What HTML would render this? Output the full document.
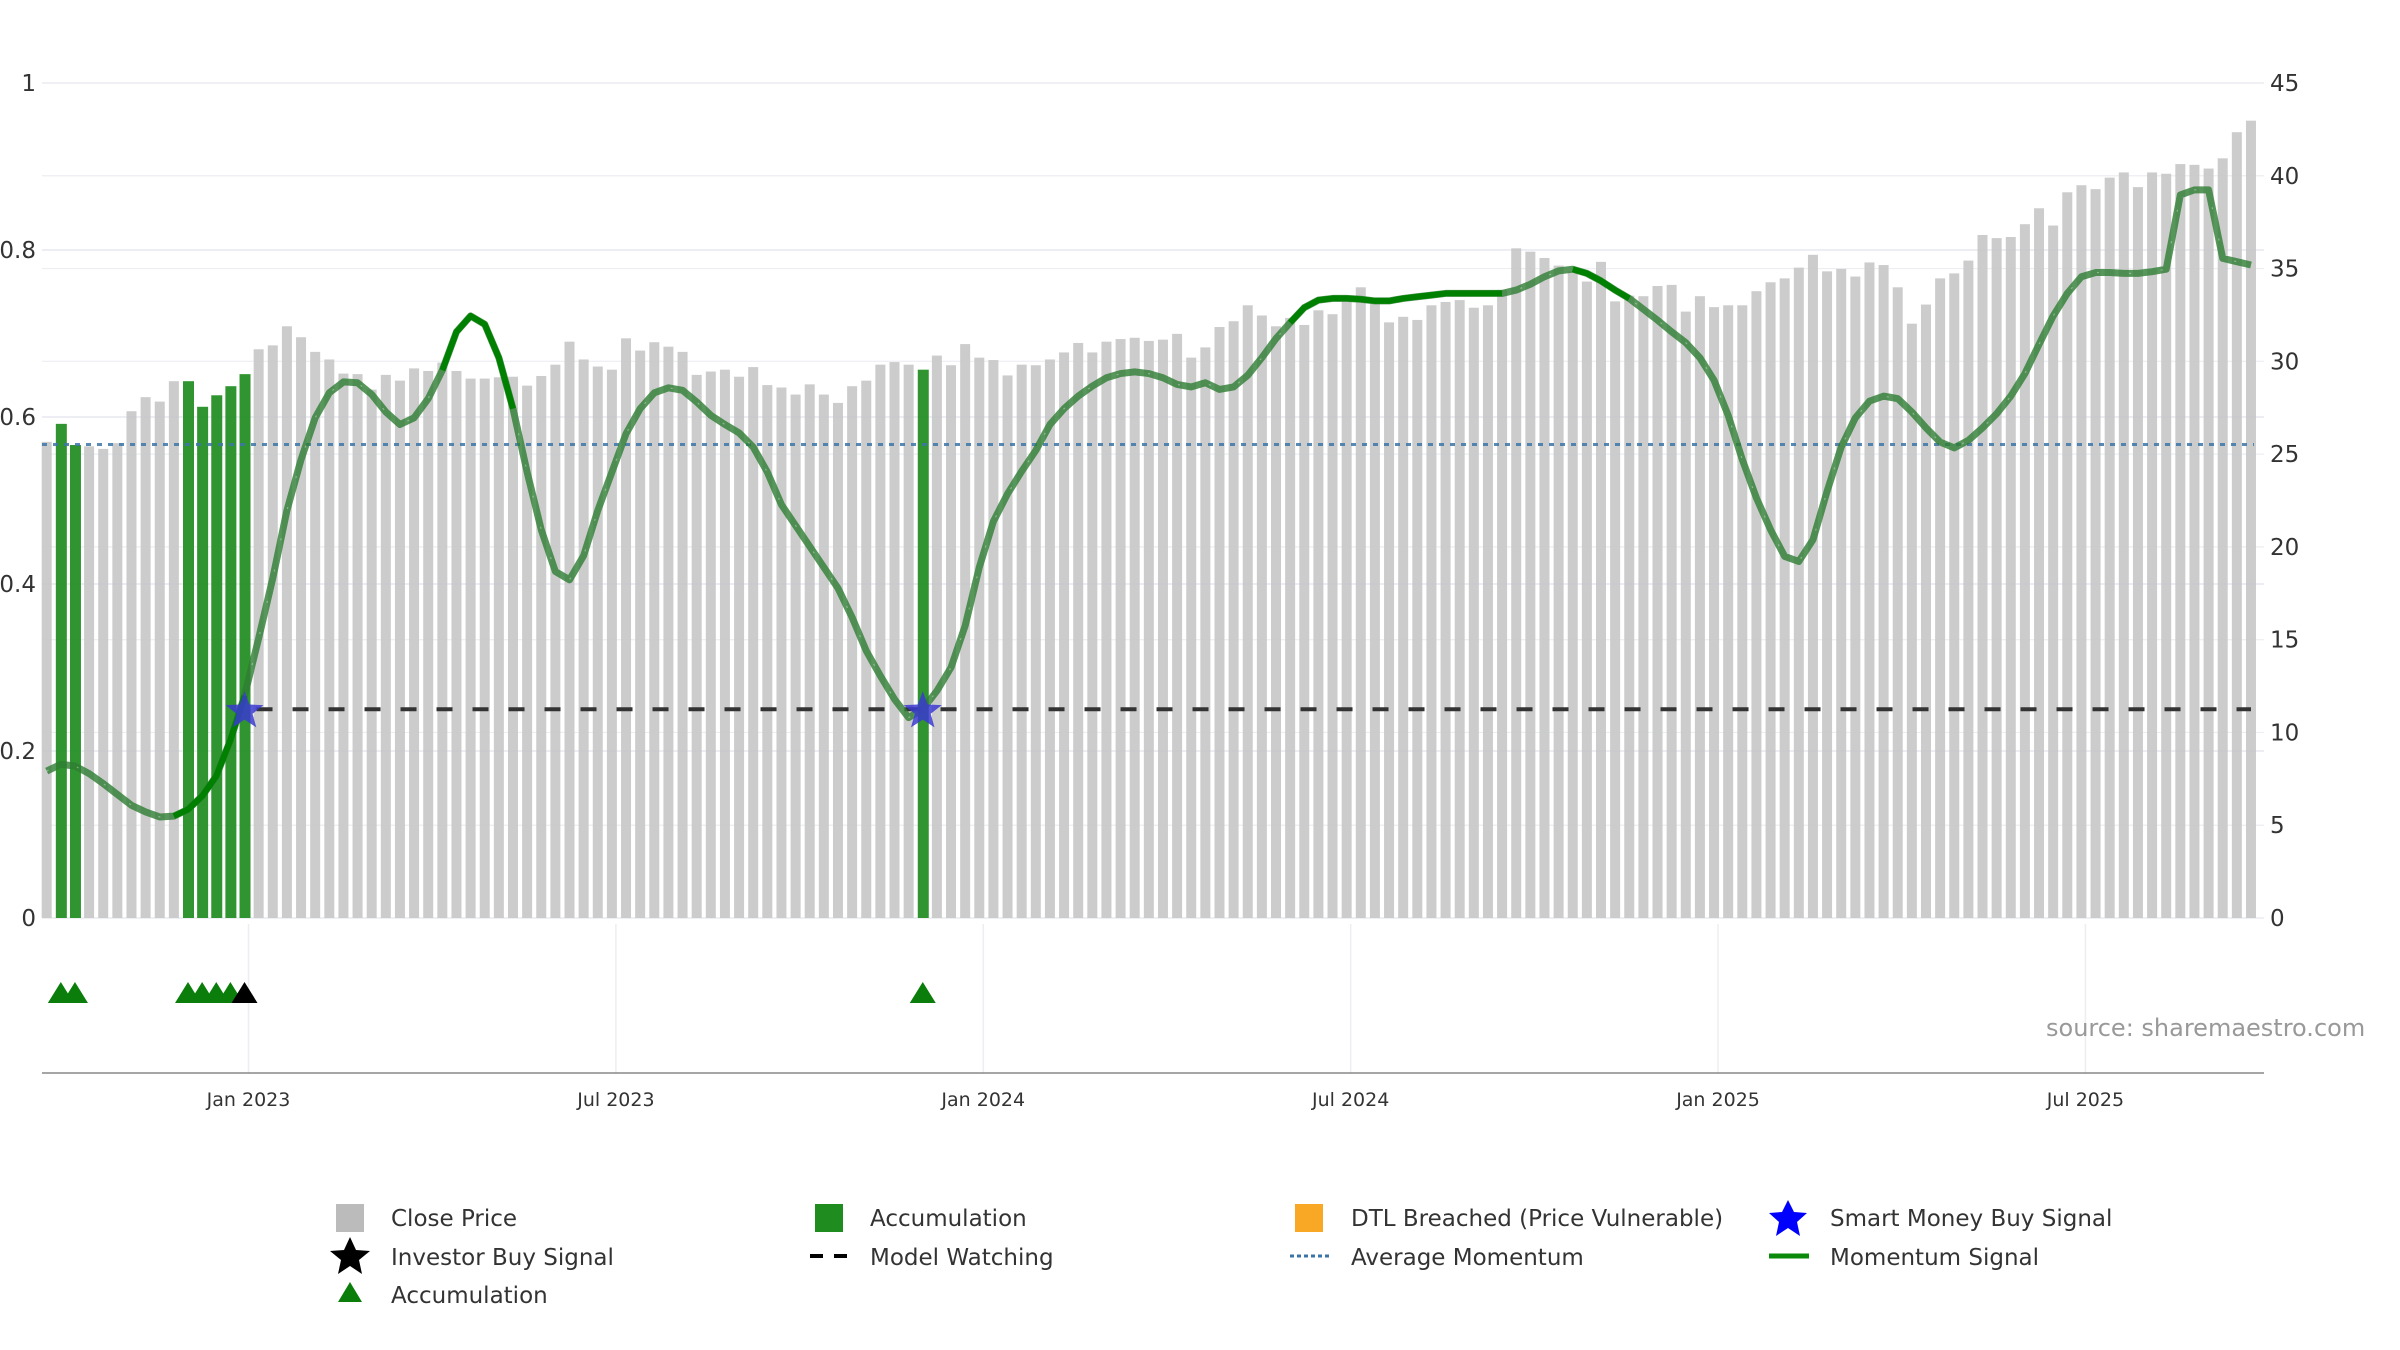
<!DOCTYPE html>
<html><head><meta charset="utf-8"><style>
html,body{margin:0;padding:0;background:#fff;}
svg{display:block;font-family:"DejaVu Sans","Liberation Sans",sans-serif;}
</style></head><body>
<svg id="chart" width="2400" height="1350" viewBox="0 0 2400 1350" xmlns="http://www.w3.org/2000/svg">
<g id="grid"></g>
<g id="bars"></g>
<g id="lines"></g>
<g id="marks"></g>
<g id="axes"></g>
<text x="2046" y="1036" font-size="24" fill="#999">source: sharemaestro.com</text>
<g id="legend" font-size="23" fill="#333">
  <rect x="336" y="1204" width="28" height="28" fill="#bbb"/>
  <text x="391" y="1226">Close Price</text>
  <rect x="815" y="1204" width="28" height="28" fill="#1e8c1e"/>
  <text x="870" y="1226">Accumulation</text>
  <rect x="1295" y="1204" width="28" height="28" fill="#f9a825"/>
  <text x="1351" y="1226">DTL Breached (Price Vulnerable)</text>
  <polygon points="1788,1200 1794,1212 1807,1213 1797,1222 1800,1236 1788,1228 1776,1236 1779,1222 1769,1213 1782,1212" fill="#0000ff"/>
  <text x="1830" y="1226">Smart Money Buy Signal</text>
  <polygon points="350,1237 356,1250 370,1251 359,1260 362,1274 350,1266 338,1274 341,1260 330,1251 344,1250" fill="#000"/>
  <text x="391" y="1265">Investor Buy Signal</text>
  <line x1="810" y1="1256" x2="850" y2="1256" stroke="#000" stroke-width="4" stroke-dasharray="13,11"/>
  <text x="870" y="1265">Model Watching</text>
  <line x1="1290" y1="1256" x2="1330" y2="1256" stroke="#3b75a8" stroke-width="3" stroke-dasharray="4,3"/>
  <text x="1351" y="1265">Average Momentum</text>
  <line x1="1769" y1="1256" x2="1809" y2="1256" stroke="#0a8a0a" stroke-width="5"/>
  <text x="1830" y="1265">Momentum Signal</text>
  <polygon points="350,1282 362,1302 338,1302" fill="#0a7d0a"/>
  <text x="391" y="1303">Accumulation</text>
</g>
</svg>
<script>
const prices = [25.66,26.63,25.49,25.42,25.28,25.59,27.31,28.07,27.83,28.93,28.93,27.55,28.17,28.66,29.31,30.65,30.86,31.89,31.30,30.51,30.10,29.34,29.31,28.48,29.27,28.96,29.62,29.48,29.93,29.48,29.07,29.07,29.14,29.17,28.69,29.21,29.82,31.06,30.10,29.72,29.55,31.24,30.58,31.03,30.79,30.51,29.27,29.45,29.55,29.17,29.69,28.72,28.59,28.21,28.76,28.21,27.76,28.66,28.96,29.82,29.96,29.82,29.55,30.31,29.79,30.93,30.20,30.07,29.24,29.82,29.79,30.10,30.48,30.99,30.48,31.06,31.20,31.27,31.10,31.17,31.48,30.20,
30.75,31.85,32.16,33.02,32.47,31.89,32.34,31.96,32.75,32.54,33.23,33.99,33.09,32.10,32.40,32.23,33.02,33.20,33.30,32.89,33.02,33.85,36.09,35.91,35.57,35.16,34.85,34.30,35.36,33.23,33.54,33.51,34.06,34.12,32.68,33.51,32.92,33.02,33.02,33.78,34.26,34.47,35.05,35.74,34.85,34.98,34.57,35.33,35.19,33.99,32.03,33.06,34.47,34.74,35.43,36.81,36.64,36.70,37.39,38.25,37.32,39.11,39.49,39.28,39.90,40.18,39.39,40.18,40.11,40.63,40.59,40.39,40.94,42.35,42.97];
const momentum = [0.176,0.184,0.182,0.173,0.161,0.148,0.135,0.127,0.121,0.122,0.130,0.146,0.170,0.213,0.266,0.335,0.407,0.488,0.549,0.599,0.629,0.642,0.641,0.627,0.606,0.591,0.599,0.622,0.656,0.702,0.721,0.711,0.671,0.610,0.534,0.465,0.415,0.405,0.434,0.488,0.534,0.580,0.610,0.629,0.635,0.632,0.618,0.602,0.591,0.581,0.564,0.534,0.495,0.470,0.445,0.420,0.395,0.360,0.320,0.290,0.262,0.240,0.250,0.272,0.300,0.350,0.420,0.475,0.508,0.535,0.560,0.591,0.610,0.625,0.637,0.647,0.652,0.654,0.652,0.647,0.639,0.636,
0.641,0.633,0.636,0.650,0.671,0.694,0.713,0.731,0.740,0.742,0.742,0.741,0.739,0.739,0.742,0.744,0.746,0.748,0.748,0.748,0.748,0.748,0.752,0.759,0.768,0.775,0.777,0.772,0.763,0.752,0.742,0.729,0.716,0.702,0.689,0.671,0.644,0.602,0.549,0.503,0.465,0.433,0.427,0.453,0.511,0.564,0.599,0.619,0.625,0.622,0.606,0.587,0.570,0.563,0.572,0.587,0.604,0.625,0.652,0.687,0.721,0.748,0.768,0.773,0.773,0.772,0.772,0.774,0.777,0.866,0.872,0.872,0.790,0.786,0.782];
const accumulationBars = [1,2,10,11,12,13,14,62];
const accumulationTriangles = [1,2,10,11,12,13,62];
const investorBuy = [14];
const smartMoney = [14,62];
const strongRanges = [[9,14],[28,33],[88,103],[108,112]];
const avgMomentum = 0.567;
const modelWatching = 0.25;
const watchStart = 14;
const leftTicks = [0,0.2,0.4,0.6,0.8,1];
const leftTickLabels = ["0","0.2","0.4","0.6","0.8","1"];
const rightTicks = [0,5,10,15,20,25,30,35,40,45];
const dateTicks = [14,40,66,92,118,144];
const dateLabels = ["Jan 2023","Jul 2023","Jan 2024","Jul 2024","Jan 2025","Jul 2025"];

const NS="http://www.w3.org/2000/svg";
const X0=46.7, STEP=14.13, Y0=918, H=835, PL=42, PR=2264, PRICEMAX=45;
const xs=i=>X0+STEP*i;
const yL=v=>Y0-v*H;
const yR=p=>Y0-p/PRICEMAX*H;
function mk(tag,attrs,parent){const e=document.createElementNS(NS,tag);for(const k in attrs)e.setAttribute(k,attrs[k]);parent.appendChild(e);return e;}
const grid=document.getElementById('grid'),bars=document.getElementById('bars'),lines=document.getElementById('lines'),marks=document.getElementById('marks'),axes=document.getElementById('axes');

leftTicks.forEach((v,k)=>{
  const l=mk('line',{x1:PL,x2:PR,y1:yL(v),y2:yL(v),stroke:'#e6e9ef','stroke-width':1.5},grid);
  
  
  const t=mk('text',{x:36,y:yL(v)+8,'font-size':23,fill:'#333','text-anchor':'end'},axes);
  t.textContent=leftTickLabels[k];
  
  
});
rightTicks.forEach(p=>{
  const l=mk('line',{x1:PL,x2:PR,y1:yR(p),y2:yR(p),stroke:'#eceef2','stroke-width':1.2},grid);
  
  
  const t=mk('text',{x:2270,y:yR(p)+8,'font-size':23,fill:'#333'},axes);
  t.textContent=String(p);
  
  
});
dateTicks.forEach((i,k)=>{
  const x=xs(i)+4;
  const l=mk('line',{x1:x,x2:x,y1:Y0+6,y2:1074,stroke:'#eceef2','stroke-width':1.5},grid);
  
  
  const t=mk('text',{x:x,y:1106,'font-size':19,fill:'#333','text-anchor':'middle'},axes);
  t.textContent=dateLabels[k];
  
  
});
const ax=mk('line',{x1:PL,x2:PR,y1:1073,y2:1073,stroke:'#888','stroke-width':1.5},axes);



prices.forEach((p,i)=>{
  const acc=accumulationBars.includes(i);
  const r=mk('rect',{x:xs(i)-5,y:yR(p),width:acc?11:10,height:Y0-yR(p),fill:acc?'#1e8c1e':'#c6c6c6','fill-opacity':acc?0.92:0.9},bars);
  
  
});

const avg=mk('line',{x1:PL,x2:PR-10,y1:yL(avgMomentum),y2:yL(avgMomentum),stroke:'#3b75a8','stroke-width':3,'stroke-dasharray':'5,6','stroke-opacity':0.85},lines);


const mw=mk('line',{x1:xs(watchStart)+12,x2:xs(prices.length-1),y1:yL(modelWatching),y2:yL(modelWatching),stroke:'#333','stroke-width':4,'stroke-dasharray':'16,20'},lines);



const pts=momentum.map((v,i)=>xs(i)+','+yL(v)).join(' ');
const ml=mk('polyline',{points:pts,fill:'none',stroke:'#2e7d32','stroke-opacity':0.8,'stroke-width':7,'stroke-linejoin':'round'},lines);


const mh=mk('polyline',{points:pts,fill:'none',stroke:'#fff','stroke-opacity':0.35,'stroke-width':1.2,'stroke-dasharray':'2,30'},lines);


strongRanges.forEach(r=>{
  const seg=momentum.slice(r[0],r[1]+1).map((v,k)=>xs(r[0]+k)+','+yL(v)).join(' ');
  const s=mk('polyline',{points:seg,fill:'none',stroke:'#008000','stroke-width':6,'stroke-linejoin':'round'},lines);
  
  
});

function star(cx,cy,R,fill){
  let p=[];for(let k=0;k<10;k++){const a=-Math.PI/2+k*Math.PI/5;const r=k%2?R*0.42:R;p.push((cx+r*Math.cos(a)).toFixed(1)+','+(cy+r*Math.sin(a)).toFixed(1));}
  return mk('polygon',{points:p.join(' '),fill:fill},marks);
}
smartMoney.forEach(i=>{
  const s=star(xs(i),yL(modelWatching)+2,20,'#3a3ad0');
  s.setAttribute('fill-opacity','0.85');
  
  
});
accumulationTriangles.forEach(i=>{
  const x=xs(i),y=993;
  const t=mk('polygon',{points:`${x},${y-11} ${x+13},${y+10} ${x-13},${y+10}`,fill:'#0a7d0a'},marks);
  
  
});
investorBuy.forEach(i=>{
  const x=xs(i),y=993;
  const t=mk('polygon',{points:`${x},${y-11} ${x+13},${y+10} ${x-13},${y+10}`,fill:'#000'},marks);
  
  
});
</script>
</body></html>
